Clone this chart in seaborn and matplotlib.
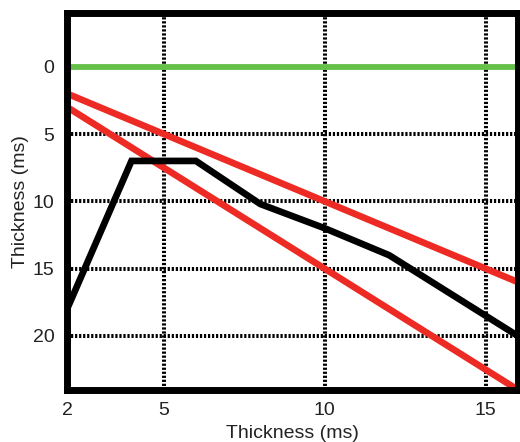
import matplotlib
matplotlib.use("Agg")
import matplotlib.pyplot as plt
import seaborn as sns
import pandas as pd

# data
green_x = [2, 16]
green_y = [0, 0]
red1_x = [2, 16]
red1_y = [2, 16]
red2_x = [2, 16]
red2_y = [3, 24]
black_x = [2, 4, 6, 8, 10, 12, 14, 16]
black_y = [18, 7, 7, 10.2, 12, 14, 17, 20]

x_ticks = [2, 5, 10, 15]
y_ticks = [0, 5, 10, 15, 20]

sns.set_style("white")
plt.rcParams["font.family"] = ["Liberation Sans", "DejaVu Sans"]

fig = plt.figure(figsize=(5.2, 4.42), dpi=100)
ax = fig.add_axes([0.129, 0.118, 0.867, 0.853])

for xs, ys, col, lw in [
    (green_x, green_y, "#66c14a", 4.2),
    (red1_x, red1_y, "#ee2a24", 4.8),
    (red2_x, red2_y, "#ee2a24", 4.8),
    (black_x, black_y, "black", 4.8),
]:
    df = pd.DataFrame({"x": xs, "y": ys})
    sns.lineplot(data=df, x="x", y="y", color=col, linewidth=lw, ax=ax,
                 zorder=3, solid_joinstyle="miter")

ax.set_xlim(2, 16)
ax.set_ylim(24, -4)
ax.set_xticks(x_ticks)
ax.set_yticks(y_ticks)
ax.grid(True, color="black", linestyle=(0, (0.55, 0.45)), linewidth=2.9, zorder=1)
ax.set_axisbelow(True)
for s in ax.spines.values():
    s.set_color("black")
    s.set_linewidth(5)
    s.set_zorder(4)
ax.tick_params(length=0, labelsize=14, pad=9, colors="#222222")
ax.set_xlabel("Thickness (ms)", fontsize=14, labelpad=4, color="#222222")
ax.set_ylabel("Thickness (ms)", fontsize=14, labelpad=3, color="#222222")

fig.savefig("out.png", dpi=100)
